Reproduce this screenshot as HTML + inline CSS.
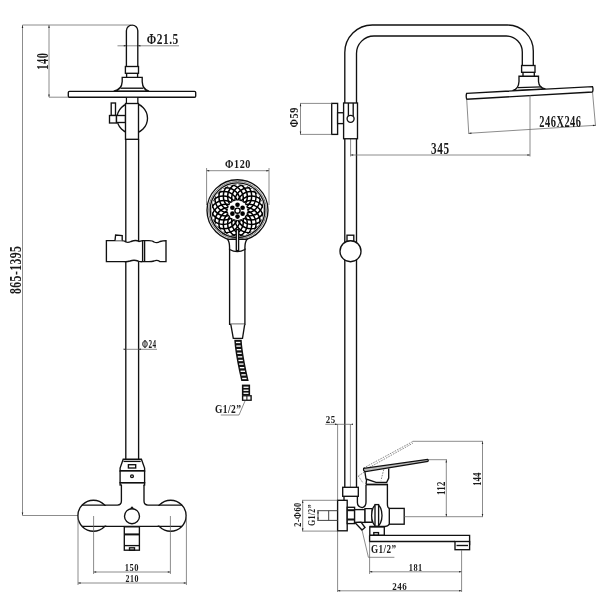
<!DOCTYPE html>
<html><head><meta charset="utf-8"><style>
html,body{margin:0;padding:0;background:#fff;}
svg{display:block;}
.o{fill:none;stroke:#111;stroke-width:1.35;}
.ow{fill:#fff;stroke:#111;stroke-width:1.35;}
.o2{fill:none;stroke:#111;stroke-width:2;}
.w{fill:#fff;stroke:none;}
.b{fill:#111;stroke:none;}
.d{fill:none;stroke:#666;stroke-width:0.75;}
.d2{fill:none;stroke:#444;stroke-width:1;}
.dash{fill:none;stroke:#888;stroke-width:1;stroke-dasharray:1.6 1.1;}
.t{font-family:"Liberation Serif",serif;font-weight:bold;fill:#1a1a1a;stroke:none;}
svg{will-change:transform;}
</style></head>
<body><svg width="600" height="600" viewBox="0 0 600 600">
<rect width="600" height="600" fill="#fff"/>
<line x1="22.5" y1="25" x2="22.5" y2="515.5" class="d"/>
<line x1="22.5" y1="25" x2="131" y2="25" class="d"/>
<line x1="22.5" y1="515.5" x2="78" y2="515.5" class="d"/>
<text transform="translate(21.30,293.99) rotate(-90) scale(0.694,1)" x="0" y="0" font-size="16.79" letter-spacing="0.68" class="t">865-1395</text>
<line x1="49" y1="25" x2="49" y2="97.2" class="d"/>
<line x1="49" y1="97.2" x2="68.5" y2="97.2" class="d"/>
<text transform="translate(48.00,69.65) rotate(-90) scale(0.647,1)" x="0" y="0" font-size="16.03" letter-spacing="0.87" class="t">140</text>
<line x1="117.5" y1="45.8" x2="179" y2="45.8" class="d"/>
<text transform="translate(146.75,44.00) scale(0.746,1)" x="0" y="0" font-size="15.27" letter-spacing="0.72" class="t">&#934;21.5</text>
<path d="M126.4,66.5 V30.8 A5.7,5.7 0 0 1 137.8,30.8 V66.5" class="o" />
<rect x="125.4" y="66.5" width="13.10" height="6.80" class="o" />
<line x1="126.6" y1="73.3" x2="126.6" y2="77.3" class="o"/>
<line x1="137.6" y1="73.3" x2="137.6" y2="77.3" class="o"/>
<path d="M122.2,77.3 H142.2 V81.6 Q142.6,89.6 149,91.2 H113.7 Q121.8,89.6 122.2,81.6 Z" class="o" />
<line x1="120.6" y1="88.2" x2="143.2" y2="88.2" class="o"/>
<rect x="68.3" y="91.3" width="127.40" height="5.90" class="o" rx="1.2"/>
<line x1="126.5" y1="97.2" x2="126.5" y2="103.5" class="o"/>
<line x1="137.8" y1="97.2" x2="137.8" y2="103.5" class="o"/>
<circle cx="132.25" cy="118.2" r="15.25" class="o" />
<rect x="127.2" y="97.9" width="9.90" height="6.10" class="w" />
<rect x="111.2" y="103" width="4.30" height="12.50" class="ow" />
<rect x="109.5" y="115.5" width="7.00" height="7.50" class="ow" />
<rect x="116.5" y="115.5" width="9.00" height="7.00" class="ow" />
<rect x="125.5" y="103.5" width="13.00" height="35.80" class="ow" />
<line x1="125.8" y1="139.3" x2="125.8" y2="459.2" class="o"/>
<line x1="138.6" y1="139.3" x2="138.6" y2="459.2" class="o"/>
<line x1="125.8" y1="349.3" x2="157" y2="349.3" class="d"/>
<text transform="translate(142.00,348.00) scale(0.629,1)" x="0" y="0" font-size="11.45" letter-spacing="0.79" class="t">&#934;24</text>
<path d="M106.4,240.6 H121 Q125,240.6 126,242 Q128,243 131,241.5 Q136,239.6 139,241.5 Q141,241 142.6,240.6 H149 Q153,240.6 154,242 Q157,243.5 160,241.5 Q163,240.6 166,240.6 V261.6 H160 Q157,259.6 154,261 Q152,261.6 149,261.6 H142.6 Q140,262 138,261 Q134,259.5 130,261 Q127,262 124,261.6 H106.4 Z" class="ow" />
<line x1="142.6" y1="240.6" x2="142.6" y2="261.6" class="o"/>
<line x1="144.6" y1="240.6" x2="144.6" y2="261.6" class="o"/>
<path d="M115,240.6 L115.6,235 L122.2,235.6 L122.2,240.6" class="ow" />
<path d="M123.2,459.2 H141.4 L144.6,468 V471 H120.1 V468 Z" class="ow" />
<line x1="123.5" y1="461.4" x2="140.7" y2="461.4" class="o"/>
<rect x="128.4" y="464.7" width="7.30" height="3.30" class="o" />
<line x1="120.1" y1="471" x2="144.6" y2="471" class="o2"/>
<rect x="120.1" y="471" width="24.50" height="11.70" class="ow" />
<circle cx="132" cy="476.3" r="1.4" class="o" />
<rect x="120.1" y="482.7" width="24.50" height="2.30" class="o" />
<circle cx="93.4" cy="515.7" r="15.5" class="ow" />
<circle cx="170.6" cy="515.7" r="15.5" class="ow" />
<rect x="83.2" y="505.9" width="97.60" height="19.60" class="w" />
<rect x="121.9" y="484" width="21.60" height="22.00" class="w" />
<path d="M81.9,505.1 H117.4 Q121.4,505.1 121.4,501.1 V485 M144,485 V501.1 Q144,505.1 148,505.1 H182.1 M81.9,526.3 H182.1" class="o" />
<circle cx="132" cy="516.2" r="7.5" class="o" />
<path d="M130.6,508.8 L132,507.3 L133.4,508.8" class="o" />
<rect x="124.3" y="526.8" width="15.10" height="23.40" class="ow" />
<line x1="124.3" y1="534.4" x2="139.4" y2="534.4" class="o2"/>
<line x1="124.3" y1="545.6" x2="139.4" y2="545.6" class="o"/>
<rect x="129.5" y="547.8" width="5.00" height="2.40" class="o" />
<line x1="93.6" y1="516" x2="93.6" y2="574" class="d"/>
<line x1="170.4" y1="516" x2="170.4" y2="574" class="d"/>
<line x1="93.6" y1="572" x2="170.4" y2="572" class="d"/>
<text transform="translate(124.81,571.00) scale(0.794,1)" x="0" y="0" font-size="10.69" letter-spacing="0.56" class="t">150</text>
<line x1="78" y1="516" x2="78" y2="585" class="d"/>
<line x1="186.4" y1="516" x2="186.4" y2="585" class="d"/>
<line x1="78" y1="583" x2="186.4" y2="583" class="d"/>
<text transform="translate(125.60,582.00) scale(0.700,1)" x="0" y="0" font-size="11.30" letter-spacing="0.64" class="t">210</text>
<line x1="206.6" y1="170.7" x2="269" y2="170.7" class="d"/>
<line x1="206.6" y1="168" x2="206.6" y2="205" class="d"/>
<line x1="269" y1="168" x2="269" y2="205" class="d"/>
<text transform="translate(225.00,168.30) scale(0.802,1)" x="0" y="0" font-size="12.67" letter-spacing="0.73" class="t">&#934;120</text>
<circle cx="237.5" cy="210.2" r="30.5" class="ow" />
<circle cx="237.5" cy="210.2" r="28.8" fill="none" stroke="#555" stroke-width="0.8"/>
<circle cx="237.5" cy="210.2" r="27.3" class="o" />
<clipPath id="hc"><circle cx="237.5" cy="210.2" r="26"/></clipPath>
<g clip-path="url(#hc)" fill="none" stroke="#000" stroke-width="1.5"><circle cx="237.50" cy="224.40" r="14.2"/><circle cx="233.11" cy="223.71" r="14.2"/><circle cx="229.15" cy="221.69" r="14.2"/><circle cx="226.01" cy="218.55" r="14.2"/><circle cx="223.99" cy="214.59" r="14.2"/><circle cx="223.30" cy="210.20" r="14.2"/><circle cx="223.99" cy="205.81" r="14.2"/><circle cx="226.01" cy="201.85" r="14.2"/><circle cx="229.15" cy="198.71" r="14.2"/><circle cx="233.11" cy="196.69" r="14.2"/><circle cx="237.50" cy="196.00" r="14.2"/><circle cx="241.89" cy="196.69" r="14.2"/><circle cx="245.85" cy="198.71" r="14.2"/><circle cx="248.99" cy="201.85" r="14.2"/><circle cx="251.01" cy="205.81" r="14.2"/><circle cx="251.70" cy="210.20" r="14.2"/><circle cx="251.01" cy="214.59" r="14.2"/><circle cx="248.99" cy="218.55" r="14.2"/><circle cx="245.85" cy="221.69" r="14.2"/><circle cx="241.89" cy="223.71" r="14.2"/></g>
<circle cx="237.5" cy="210.2" r="9.8" class="w" />
<circle cx="237.50" cy="216.60" r="2.3" fill="#000"/>
<circle cx="232.39" cy="213.65" r="2.3" fill="#000"/>
<circle cx="232.39" cy="207.75" r="2.3" fill="#000"/>
<circle cx="237.50" cy="204.80" r="2.3" fill="#000"/>
<circle cx="242.61" cy="207.75" r="2.3" fill="#000"/>
<circle cx="242.61" cy="213.65" r="2.3" fill="#000"/>
<circle cx="237.5" cy="210.7" r="2.6" fill="#fff" stroke="#000" stroke-width="1.4"/>
<rect x="229.6" y="249" width="15.30" height="75.30" class="ow" />
<path d="M227.6,239.4 Q229.6,242 229.6,248 L229.6,249.5 Q237.3,253.8 244.9,249.5 L244.9,248 Q244.9,242 247,239.4 Z" fill="#fff" stroke="#111" stroke-width="1.35"/>
<rect x="236.3" y="229.6" width="2.30" height="21.00" class="ow" />
<path d="M230.8,324.3 L233.3,338.3 H242.5 L244.7,324.3" class="ow" />
<polygon points="234.30,339.70 234.41,341.76 234.58,343.83 234.79,345.89 235.04,347.96 235.31,350.02 235.60,352.09 235.91,354.15 236.24,356.22 236.59,358.28 236.95,360.35 237.33,362.41 237.72,364.48 238.13,366.54 238.55,368.61 238.98,370.68 239.42,372.74 239.88,374.81 240.34,376.87 240.81,378.94 241.30,381.00 248.70,381.00 248.21,378.94 247.74,376.87 247.28,374.81 246.82,372.74 246.38,370.68 245.95,368.61 245.53,366.54 245.12,364.48 244.73,362.41 244.35,360.35 243.99,358.28 243.64,356.22 243.31,354.15 243.00,352.09 242.71,350.02 242.44,347.96 242.19,345.89 241.98,343.83 241.81,341.76 241.70,339.70" fill="#111"/>
<rect x="235.95" y="341.80" width="4.4" height="1.35" fill="#fff"/>
<rect x="236.30" y="345.40" width="4.4" height="1.35" fill="#fff"/>
<rect x="236.75" y="349.00" width="4.4" height="1.35" fill="#fff"/>
<rect x="237.26" y="352.60" width="4.4" height="1.35" fill="#fff"/>
<rect x="237.84" y="356.20" width="4.4" height="1.35" fill="#fff"/>
<rect x="238.46" y="359.80" width="4.4" height="1.35" fill="#fff"/>
<rect x="239.13" y="363.40" width="4.4" height="1.35" fill="#fff"/>
<rect x="239.84" y="367.00" width="4.4" height="1.35" fill="#fff"/>
<rect x="240.59" y="370.60" width="4.4" height="1.35" fill="#fff"/>
<rect x="241.37" y="374.20" width="4.4" height="1.35" fill="#fff"/>
<rect x="242.19" y="377.80" width="4.4" height="1.35" fill="#fff"/>
<rect x="241.9" y="384.6" width="8.20" height="10.50" class="b" />
<rect x="243.5" y="386.6" width="5.00" height="1.30" class="w" />
<rect x="243.5" y="389.6" width="5.00" height="1.30" class="w" />
<rect x="243.5" y="392.6" width="5.00" height="1.30" class="w" />
<rect x="241.9" y="395.1" width="9.90" height="5.80" class="b" />
<rect x="243.3" y="396.4" width="3.10" height="3.20" class="w" />
<rect x="247.4" y="396.4" width="3.00" height="3.20" class="w" />
<path d="M245,401 L239,415 H220.8" class="d" />
<text transform="translate(215.05,413.30) scale(0.750,1)" x="0" y="0" font-size="12.67" letter-spacing="0.58" class="t">G1/2&#8221;</text>
<path d="M344.8,487 V52.5 A27.5,27.5 0 0 1 372.3,25 H507.3 A26,26 0 0 1 533.3,51 V65.5" class="o" />
<path d="M356.5,487 V53.5 A17.5,17.5 0 0 1 374,36 H506.3 A16,16 0 0 1 522.3,52.1 V65.5" class="o" />
<rect x="521.6" y="65.5" width="13.40" height="6.80" class="o" />
<line x1="523" y1="72.3" x2="523" y2="76.3" class="o"/>
<line x1="534.3" y1="72.3" x2="534.3" y2="76.3" class="o"/>
<path d="M519,76.2 H538.5 V81.5 Q539,88 545.5,88.9 L512.5,90.6 Q518.5,89.5 519,81.5 Z" class="o" />
<line x1="518" y1="87.6" x2="541.5" y2="86.9" class="o"/>
<path d="M466.7,93.3 L592.5,86.7 Q593.5,89 592.5,92 L466.7,99.2 Q465.7,96 466.7,93.3 Z" class="ow" />
<line x1="466.7" y1="99.2" x2="468.8" y2="134" class="d"/>
<line x1="592.5" y1="92" x2="595.5" y2="126" class="d"/>
<line x1="468.8" y1="133.3" x2="595.5" y2="125.3" class="d"/>
<text transform="translate(539.36,126.70) scale(0.638,1)" x="0" y="0" font-size="16.34" letter-spacing="0.74" class="t">246X246</text>
<line x1="530" y1="95" x2="530" y2="156.5" class="d"/>
<line x1="350.6" y1="138.8" x2="350.6" y2="156.5" class="d"/>
<line x1="350.6" y1="155" x2="530" y2="155" class="d"/>
<text transform="translate(431.09,153.60) scale(0.714,1)" x="0" y="0" font-size="15.73" letter-spacing="0.83" class="t">345</text>
<rect x="331.7" y="103.4" width="5.90" height="31.00" class="ow" />
<rect x="337.6" y="112.75" width="6.00" height="10.85" class="ow" />
<rect x="343.6" y="103" width="13.90" height="35.75" class="ow" />
<line x1="348.4" y1="103" x2="348.4" y2="116" class="o"/>
<line x1="353.2" y1="103" x2="353.2" y2="116" class="o"/>
<circle cx="350.6" cy="118.8" r="3.5" class="ow" />
<line x1="300" y1="103.4" x2="331.7" y2="103.4" class="d"/>
<line x1="300" y1="134.4" x2="331.7" y2="134.4" class="d"/>
<line x1="300.5" y1="103.4" x2="300.5" y2="134.4" class="d"/>
<text transform="translate(297.50,127.50) rotate(-90) scale(0.886,1)" x="0" y="0" font-size="11.45" letter-spacing="0.79" class="t">&#934;59</text>
<rect x="347" y="235.2" width="6.80" height="6.30" class="ow" />
<circle cx="350.5" cy="251.2" r="10.5" class="ow" />
<line x1="337.6" y1="424" x2="337.6" y2="592" class="d"/>
<line x1="350.4" y1="424" x2="350.4" y2="487" class="d"/>
<line x1="325.3" y1="424.3" x2="350.4" y2="424.3" class="d"/>
<text transform="translate(325.70,422.70) scale(0.837,1)" x="0" y="0" font-size="10.69" letter-spacing="0.75" class="t">25</text>
<rect x="342.7" y="487.3" width="15.60" height="9.00" class="ow" />
<path d="M344,496.3 V500.3 M357.4,496.3 V502.5 Q357.4,506.8 362.3,507.6 Q366,506.8 366,502 V485" class="o" />
<path d="M366,484.5 H387.4 V504 Q387.4,508 389.5,508.4 M389.5,524.2 Q387.6,526.4 385,526.5 H369.5" class="o" />
<path d="M364.7,470.7 L366,479 L376,482.3 H386.7 L388.7,478 V468.5" class="ow" />
<line x1="366" y1="484.5" x2="387.4" y2="484.5" class="o"/>
<line x1="366.7" y1="479" x2="366" y2="484.5" class="o"/>
<path d="M363.7,468 L413,441.4 M369.5,467.4 L412.8,443.2 M383.7,469.6 L381,480.4 M358.3,476 L364.7,471.8 M358.3,476 L363.1,483.1" class="dash" />
<path d="M363.6,468.4 L427.6,459.3 Q428.9,460 427.9,461.4 L365.6,471.6 Q363,471.2 363.6,468.4 Z" fill="#bbb" stroke="#111" stroke-width="1.2"/>
<rect x="337.6" y="500.3" width="9.60" height="30.50" class="ow" />
<rect x="347.2" y="507.3" width="7.40" height="16.30" class="ow" />
<line x1="347.2" y1="510.2" x2="354.6" y2="510.2" class="o2"/>
<line x1="347.2" y1="519.5" x2="354.6" y2="519.5" class="o2"/>
<rect x="354.6" y="509.6" width="10.50" height="12.80" class="ow" />
<path d="M365,508.6 H372.2 V522.2 H365 Z" class="ow" />
<ellipse cx="376.8" cy="515.4" rx="5.2" ry="10.8" class="ow"/>
<rect x="375" y="504.6" width="3.60" height="21.60" class="ow" />
<rect x="389.3" y="508.4" width="14.90" height="15.80" class="ow" />
<line x1="404.2" y1="516.7" x2="483" y2="516.7" class="d"/>
<path d="M355,522.6 L361,522.2 L365,527.5 L362,530 Z" class="ow" />
<rect x="369.8" y="527" width="14.50" height="8.30" class="ow" />
<rect x="373.8" y="532.6" width="4.70" height="2.70" class="o" />
<path d="M369.6,535.3 H469.6 V545.3 M369.6,535.3 V541.5 H455" class="ow" />
<rect x="455" y="541.5" width="14.60" height="8.20" class="ow" />
<line x1="456.5" y1="545.5" x2="468" y2="545.5" class="o"/>
<path d="M362,530 L368.4,557.3 H394.4" class="d" />
<text transform="translate(370.91,552.90) scale(0.791,1)" x="0" y="0" font-size="11.60" letter-spacing="0.53" class="t">G1/2&#8221;</text>
<line x1="369.6" y1="541.5" x2="369.6" y2="574" class="d"/>
<line x1="461.6" y1="550" x2="461.6" y2="592" class="d"/>
<line x1="369.6" y1="571.8" x2="461.6" y2="571.8" class="d"/>
<text transform="translate(408.81,570.70) scale(0.790,1)" x="0" y="0" font-size="10.53" letter-spacing="0.53" class="t">181</text>
<line x1="337.6" y1="590.8" x2="461.6" y2="590.8" class="d"/>
<text transform="translate(392.30,590.20) scale(0.793,1)" x="0" y="0" font-size="11.30" letter-spacing="0.64" class="t">246</text>
<line x1="412.7" y1="441.3" x2="483" y2="441.3" class="d"/>
<line x1="428" y1="459.7" x2="447" y2="459.7" class="d"/>
<line x1="446.3" y1="459.7" x2="446.3" y2="516.7" class="d"/>
<line x1="482.5" y1="441.3" x2="482.5" y2="516.7" class="d"/>
<text transform="translate(445.30,494.93) rotate(-90) scale(0.727,1)" x="0" y="0" font-size="11.91" letter-spacing="0.60" class="t">112</text>
<text transform="translate(480.80,485.68) rotate(-90) scale(0.684,1)" x="0" y="0" font-size="11.91" letter-spacing="0.64" class="t">144</text>
<line x1="302" y1="500.3" x2="337.6" y2="500.3" class="d"/>
<line x1="302" y1="531.1" x2="337.6" y2="531.1" class="d"/>
<line x1="302.7" y1="500.3" x2="302.7" y2="531.1" class="d"/>
<text transform="translate(301.30,526.70) rotate(-90) scale(0.750,1)" x="0" y="0" font-size="11.15" letter-spacing="0.55" class="t">2-&#934;60</text>
<line x1="317.3" y1="510.7" x2="337.6" y2="510.7" class="d2"/>
<line x1="317.3" y1="520.4" x2="337.6" y2="520.4" class="d2"/>
<line x1="318" y1="510.7" x2="318" y2="520.4" class="d2"/>
<line x1="328.7" y1="510.7" x2="328.7" y2="520.4" class="d2"/>
<text transform="translate(315.30,526.00) rotate(-90) scale(0.707,1)" x="0" y="0" font-size="11.15" letter-spacing="0.53" class="t">G1/2&#8221;</text>
<path d="M22.50,25.30 L23.25,27.90 L21.75,27.90 Z" fill="#222"/>
<path d="M22.50,515.20 L21.75,512.60 L23.25,512.60 Z" fill="#222"/>
<path d="M49.00,25.30 L49.75,27.90 L48.25,27.90 Z" fill="#222"/>
<path d="M49.00,97.00 L48.25,94.40 L49.75,94.40 Z" fill="#222"/>
<path d="M126.40,45.80 L123.80,46.55 L123.80,45.05 Z" fill="#222"/>
<path d="M137.80,45.80 L140.40,45.05 L140.40,46.55 Z" fill="#222"/>
<path d="M126.20,349.30 L123.60,350.05 L123.60,348.55 Z" fill="#222"/>
<path d="M138.20,349.30 L140.80,348.55 L140.80,350.05 Z" fill="#222"/>
<path d="M93.60,572.00 L96.20,571.25 L96.20,572.75 Z" fill="#222"/>
<path d="M170.40,572.00 L167.80,572.75 L167.80,571.25 Z" fill="#222"/>
<path d="M78.00,583.00 L80.60,582.25 L80.60,583.75 Z" fill="#222"/>
<path d="M186.40,583.00 L183.80,583.75 L183.80,582.25 Z" fill="#222"/>
<path d="M206.60,170.70 L209.20,169.95 L209.20,171.45 Z" fill="#222"/>
<path d="M269.00,170.70 L266.40,171.45 L266.40,169.95 Z" fill="#222"/>
<path d="M300.50,103.60 L301.25,106.20 L299.75,106.20 Z" fill="#222"/>
<path d="M300.50,134.20 L299.75,131.60 L301.25,131.60 Z" fill="#222"/>
<path d="M350.60,155.00 L353.20,154.25 L353.20,155.75 Z" fill="#222"/>
<path d="M530.00,155.00 L527.40,155.75 L527.40,154.25 Z" fill="#222"/>
<path d="M468.80,133.30 L471.35,132.39 L471.44,133.88 Z" fill="#222"/>
<path d="M595.50,125.30 L592.95,126.21 L592.86,124.72 Z" fill="#222"/>
<path d="M337.60,424.30 L335.00,425.05 L335.00,423.55 Z" fill="#222"/>
<path d="M350.40,424.30 L353.00,423.55 L353.00,425.05 Z" fill="#222"/>
<path d="M482.50,441.50 L483.25,444.10 L481.75,444.10 Z" fill="#222"/>
<path d="M482.50,516.50 L481.75,513.90 L483.25,513.90 Z" fill="#222"/>
<path d="M446.30,459.90 L447.05,462.50 L445.55,462.50 Z" fill="#222"/>
<path d="M446.30,516.50 L445.55,513.90 L447.05,513.90 Z" fill="#222"/>
<path d="M302.70,500.50 L303.45,503.10 L301.95,503.10 Z" fill="#222"/>
<path d="M302.70,530.90 L301.95,528.30 L303.45,528.30 Z" fill="#222"/>
<path d="M318.00,510.90 L318.75,513.50 L317.25,513.50 Z" fill="#222"/>
<path d="M318.00,520.20 L317.25,517.60 L318.75,517.60 Z" fill="#222"/>
<path d="M369.60,571.80 L372.20,571.05 L372.20,572.55 Z" fill="#222"/>
<path d="M461.60,571.80 L459.00,572.55 L459.00,571.05 Z" fill="#222"/>
<path d="M337.60,590.80 L340.20,590.05 L340.20,591.55 Z" fill="#222"/>
<path d="M461.60,590.80 L459.00,591.55 L459.00,590.05 Z" fill="#222"/>
</svg></body></html>
